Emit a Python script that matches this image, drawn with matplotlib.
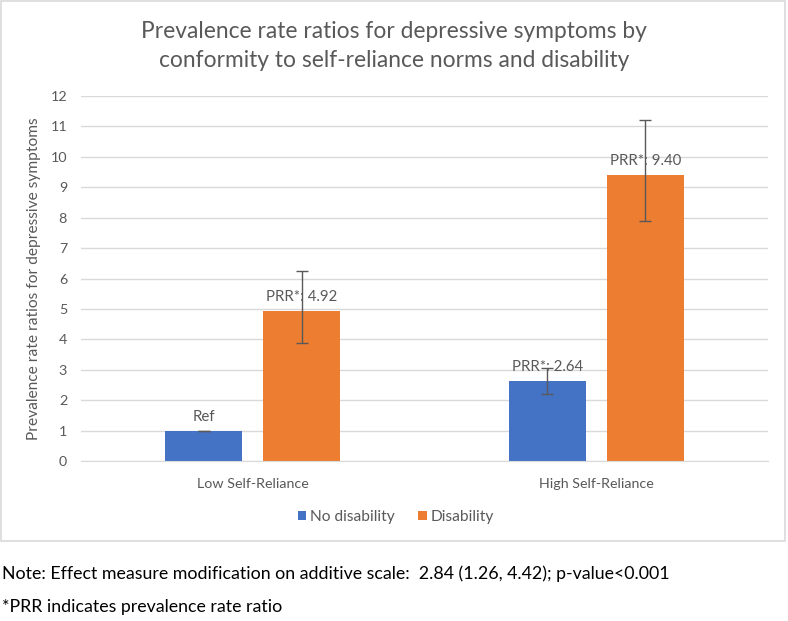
import matplotlib
matplotlib.use("Agg")
import matplotlib.pyplot as plt
from matplotlib.patches import Rectangle
import numpy as np

categories = ["Low Self-Reliance", "High Self-Reliance"]
series_names = ["No disability", "Disability"]
no_dis = [1.00, 2.64]
no_dis_lo = [1.00, 2.20]
no_dis_hi = [1.00, 3.05]
dis = [4.92, 9.40]
dis_lo = [3.87, 7.89]
dis_hi = [6.26, 11.21]
no_dis_labels = ["Ref", "PRR*: 2.64"]
dis_labels = ["PRR*: 4.92", "PRR*: 9.40"]
yticks = list(range(0, 13))

title = "Prevalence rate ratios for depressive symptoms by\nconformity to self-reliance norms and disability"
ylabel = "Prevalence rate ratios for depressive symptoms"
note1 = "Note: Effect measure modification on additive scale:  2.84 (1.26, 4.42); p-value<0.001"
note2 = "*PRR indicates prevalence rate ratio"

plt.rcParams['font.family'] = ['Lato', 'DejaVu Sans']
gray = "#595959"
blue = "#4472C4"
orange = "#ED7D31"

W, H = 788, 621
fig = plt.figure(figsize=(W / 100, H / 100), dpi=100)
ax = fig.add_axes([81 / W, (H - 461) / H, (768 - 81) / W, (461 - 96) / H])

x = np.arange(len(categories))
bw = 0.224
off = bw / 2 + 0.0305

def yerr(v, lo, hi):
    return [np.array(v) - np.array(lo), np.array(hi) - np.array(v)]

b1 = ax.bar(x - off, no_dis, bw, color=blue, label=series_names[0], zorder=2)
b2 = ax.bar(x + off, dis, bw, color=orange, label=series_names[1], zorder=2)
ax.errorbar(x - off, no_dis, yerr=yerr(no_dis, no_dis_lo, no_dis_hi), fmt='none',
            ecolor=gray, elinewidth=1, capsize=4, capthick=1, zorder=3)
ax.errorbar(x + off, dis, yerr=yerr(dis, dis_lo, dis_hi), fmt='none',
            ecolor=gray, elinewidth=1, capsize=4, capthick=1, zorder=3)

for xi, v, lab in zip(x - off, no_dis, no_dis_labels):
    ax.annotate(lab, (xi, v), xytext=(0, 5), textcoords='offset points',
                ha='center', va='bottom', fontsize=10.8, color=gray, zorder=4)
for xi, v, lab in zip(x + off, dis, dis_labels):
    ax.annotate(lab, (xi, v), xytext=(0, 5), textcoords='offset points',
                ha='center', va='bottom', fontsize=10.8, color=gray, zorder=4)

ax.set_xlim(-0.5, 1.5)
ax.set_ylim(0, 12)
ax.set_yticks(yticks)
ax.set_xticks(x)
ax.set_xticklabels(categories)
ax.tick_params(axis='both', length=0, colors=gray, labelsize=10.3)
ax.tick_params(axis='x', pad=12)
ax.tick_params(axis='y', pad=10)
ax.yaxis.grid(True, color="#d9d9d9", linewidth=1, zorder=0)
ax.set_axisbelow(True)
for s in ["top", "right", "left"]:
    ax.spines[s].set_visible(False)
ax.spines["bottom"].set_color("#d9d9d9")
ax.set_ylabel(ylabel, fontsize=11.2, color=gray, labelpad=7)

fig.text(394 / W, 1 - 46 / H, title, ha='center', va='center', fontsize=16.4,
         color=gray, linespacing=1.5)

leg = fig.legend(handles=[b1, b2], loc='center', bbox_to_anchor=(396 / W, 1 - 517 / H),
                 ncol=2, frameon=False, fontsize=11.2, handlelength=0.55, handleheight=0.55,
                 handletextpad=0.25, columnspacing=1.5)
for t in leg.get_texts():
    t.set_color(gray)

fig.patches.append(Rectangle((1 / W, 1 - 541 / H), 784 / W, 540 / H, transform=fig.transFigure,
                             fill=False, edgecolor="#d9d9d9", linewidth=1.2))

fig.text(2 / W, 1 - 574 / H, note1, ha='left', va='center', fontsize=12.8, color='black')
fig.text(2 / W, 1 - 607 / H, note2, ha='left', va='center', fontsize=12.8, color='black')

fig.savefig("out.png", dpi=100)
